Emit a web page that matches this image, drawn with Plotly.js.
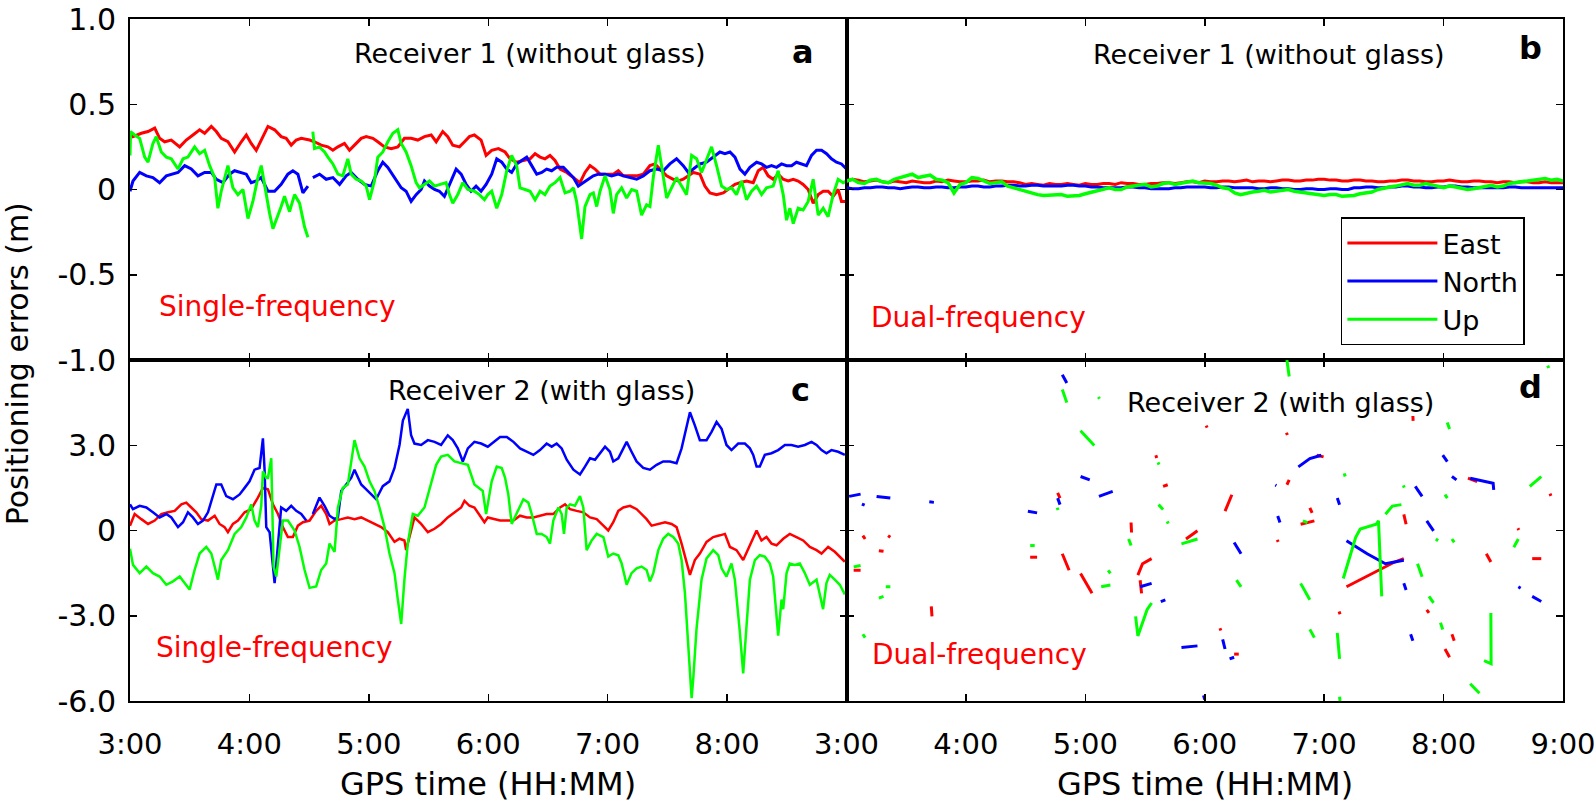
<!DOCTYPE html>
<html>
<head>
<meta charset="utf-8">
<script src="https://cdn.plot.ly/plotly-3.0.1.min.js"></script>
<style>
  body { margin: 0; background: #ffffff; }
  #root { width: 1595px; height: 804px; }
</style>
</head>
<body>
<div id="root"></div>
<script>
// GPS time in decimal hours, positioning errors in metres

// panel a: receiver 1, single-frequency
var aEastT = [3.0,3.025,3.095,3.151,3.207,3.248,3.29,3.346,3.416,3.471,3.527,3.583,3.625,3.681,3.723,3.764,3.82,3.876,3.932,3.974,4.015,4.057,4.099,4.155,4.211,4.266,4.308,4.35,4.392,4.434,4.504,4.545,4.601,4.657,4.699,4.741,4.796,4.838,4.88,4.936,4.978,5.034,5.075,5.131,5.187,5.243,5.298,5.354,5.41,5.466,5.522,5.564,5.619,5.661,5.703,5.759,5.801,5.842,5.884,5.94,5.982,6.029,6.085,6.141,6.183,6.238,6.294,6.35,6.392,6.434,6.475,6.517,6.559,6.601,6.657,6.713,6.768,6.81,6.852,6.894,6.936,6.992,7.047,7.089,7.131,7.187,7.243,7.298,7.354,7.396,7.438,7.494,7.549,7.591,7.633,7.675,7.717,7.773,7.814,7.856,7.912,7.968,8.024,8.066,8.108,8.163,8.219,8.261,8.302,8.344,8.386,8.428,8.47,8.512,8.554,8.595,8.637,8.679,8.721,8.763,8.805,8.846,8.888,8.93,8.958,9.0];
var aEast = [0.34,0.31,0.33,0.34,0.36,0.30,0.28,0.29,0.25,0.29,0.32,0.35,0.33,0.37,0.34,0.30,0.28,0.22,0.28,0.32,0.27,0.23,0.29,0.37,0.35,0.31,0.30,0.26,0.29,0.30,0.29,0.28,0.26,0.25,0.23,0.25,0.27,0.23,0.26,0.30,0.31,0.30,0.28,0.25,0.24,0.25,0.30,0.30,0.29,0.31,0.32,0.28,0.34,0.31,0.26,0.25,0.28,0.31,0.32,0.29,0.20,0.23,0.24,0.22,0.18,0.16,0.17,0.18,0.21,0.19,0.18,0.20,0.17,0.12,0.10,0.07,0.04,0.10,0.14,0.12,0.09,0.09,0.09,0.11,0.08,0.08,0.08,0.09,0.14,0.15,0.12,0.08,0.06,0.05,0.06,0.08,0.10,0.09,0.02,-0.02,-0.03,-0.02,0.01,0.03,0.04,0.05,0.04,0.11,0.13,0.08,0.06,0.09,0.06,0.05,0.06,0.05,0.03,0.00,-0.08,-0.03,-0.01,-0.01,-0.04,0.00,-0.07,-0.07];

var aNorthT = [3.0,3.025,3.081,3.137,3.192,3.248,3.304,3.36,3.402,3.458,3.513,3.569,3.625,3.681,3.723,3.778,3.834,3.876,3.932,3.974,4.015,4.057,4.099,4.155,4.211,4.266,4.322,4.364,4.406,4.448,4.49,null,4.531,4.587,4.643,4.699,4.755,4.81,4.852,4.908,4.964,5.02,5.075,5.117,5.159,5.215,5.271,5.312,5.354,5.396,5.438,5.466,5.508,5.55,5.591,5.633,5.675,5.731,5.773,5.815,5.856,5.898,5.94,5.982,6.029,6.071,6.113,6.155,6.196,6.238,6.28,6.322,6.364,6.406,6.448,6.489,6.531,6.573,6.629,6.671,6.713,6.754,6.796,6.838,6.88,6.922,6.978,7.033,7.089,7.131,7.187,7.243,7.298,7.354,7.41,7.466,7.521,7.577,7.633,7.675,7.717,7.773,7.828,7.884,7.94,7.982,8.024,8.066,8.108,8.149,8.191,8.247,8.289,8.33,8.372,8.414,8.456,8.498,8.54,8.581,8.623,8.665,8.707,8.749,8.791,8.833,8.874,8.916,8.958,9.0];
var aNorth = [-0.01,0.05,0.10,0.08,0.07,0.04,0.08,0.09,0.10,0.14,0.12,0.08,0.10,0.10,0.06,0.04,0.09,0.11,0.10,0.09,0.04,0.05,0.07,-0.01,-0.01,0.03,0.09,0.11,0.09,-0.02,0.02,null,0.07,0.09,0.06,0.07,0.03,0.08,0.10,0.06,0.03,0.02,0.11,0.16,0.13,0.07,0.01,-0.01,-0.07,-0.03,0.00,0.05,0.02,0.00,-0.01,-0.04,0.03,0.12,0.09,0.03,-0.01,0.02,-0.01,0.03,0.09,0.18,0.16,0.12,0.10,0.15,0.17,0.19,0.14,0.09,0.10,0.12,0.11,0.13,0.13,0.10,0.07,0.02,0.04,0.06,0.08,0.09,0.09,0.08,0.09,0.08,0.07,0.06,0.08,0.11,0.12,0.11,0.15,0.18,0.14,0.10,0.12,0.15,0.16,0.19,0.22,0.21,0.22,0.19,0.12,0.09,0.13,0.16,0.15,0.13,0.14,0.13,0.15,0.14,0.14,0.16,0.15,0.14,0.20,0.23,0.23,0.21,0.18,0.16,0.15,0.12];

var aUpT = [3.0,3.005,3.039,3.081,3.123,3.151,3.192,3.22,3.262,3.304,3.346,3.402,3.444,3.485,3.541,3.583,3.625,3.667,3.709,3.736,3.764,3.792,3.82,3.862,3.904,3.946,3.988,4.029,4.071,4.099,4.141,4.169,4.197,4.225,4.266,4.294,4.336,4.378,4.42,4.462,4.49,null,4.531,4.545,4.587,4.629,4.657,4.699,4.741,4.782,4.824,4.852,4.894,4.936,4.978,5.006,5.047,5.075,5.117,5.159,5.201,5.243,5.271,5.312,5.354,5.396,5.424,5.466,5.508,5.55,5.605,5.647,5.675,5.703,5.745,5.787,5.829,5.884,5.926,5.968,5.996,6.029,6.071,6.113,6.155,6.196,6.238,6.266,6.308,6.35,6.392,6.434,6.475,6.517,6.559,6.601,6.643,6.685,6.713,6.74,6.782,6.81,6.852,6.88,6.908,6.936,6.978,7.019,7.047,7.075,7.117,7.159,7.201,7.243,7.284,7.326,7.354,7.382,7.424,7.452,7.494,7.535,7.577,7.619,7.661,7.703,7.745,7.786,7.828,7.87,7.912,7.954,7.996,8.038,8.079,8.121,8.163,8.205,8.247,8.289,8.33,8.386,8.428,8.47,8.498,8.526,8.554,8.595,8.637,8.679,8.721,8.763,8.805,8.846,8.888,8.93,8.972,9.0];
var aUp = [0.20,0.34,0.32,0.30,0.19,0.16,0.27,0.31,0.22,0.19,0.18,0.12,0.18,0.19,0.25,0.21,0.23,0.14,0.07,-0.11,-0.01,0.07,0.14,0.01,-0.03,0.00,-0.17,-0.07,0.07,0.14,-0.03,-0.14,-0.23,-0.18,-0.10,-0.04,-0.13,-0.03,-0.08,-0.22,-0.28,null,0.34,0.24,0.25,0.22,0.19,0.15,0.09,0.08,0.18,0.09,0.06,0.05,0.02,-0.06,0.05,0.19,0.22,0.28,0.33,0.35,0.27,0.22,0.14,0.04,0.01,0.03,0.05,0.02,0.03,0.04,-0.03,-0.08,-0.03,0.04,0.00,-0.01,-0.03,-0.06,-0.03,-0.01,-0.11,-0.03,0.11,0.20,0.14,0.01,0.00,-0.01,-0.06,-0.01,-0.03,0.02,0.04,0.07,-0.02,-0.01,0.01,-0.07,-0.29,-0.10,-0.03,-0.02,-0.10,-0.01,0.08,0.00,-0.14,-0.03,0.01,-0.05,0.00,-0.01,-0.15,-0.09,-0.10,0.07,0.26,0.14,-0.05,0.01,0.07,0.02,-0.03,0.20,0.18,0.10,0.17,0.25,0.14,0.02,0.00,0.01,-0.03,0.05,-0.06,-0.01,0.02,-0.03,0.01,0.02,0.11,-0.03,-0.18,-0.11,-0.20,-0.11,-0.12,-0.07,0.06,-0.15,-0.11,-0.16,-0.03,0.06,0.04,0.05];

// panel b: receiver 1, dual-frequency
var bTime = [3.0,3.05,3.1,3.15,3.2,3.25,3.3,3.35,3.4,3.45,3.5,3.55,3.6,3.65,3.7,3.75,3.8,3.85,3.9,3.95,4.0,4.05,4.1,4.15,4.2,4.25,4.3,4.35,4.4,4.45,4.5,4.55,4.6,4.65,4.7,4.75,4.8,4.85,4.9,4.95,5.0,5.05,5.1,5.15,5.2,5.25,5.3,5.35,5.4,5.45,5.5,5.55,5.6,5.65,5.7,5.75,5.8,5.85,5.9,5.95,6.0,6.05,6.1,6.15,6.2,6.25,6.3,6.35,6.4,6.45,6.5,6.55,6.6,6.65,6.7,6.75,6.8,6.85,6.9,6.95,7.0,7.05,7.1,7.15,7.2,7.25,7.3,7.35,7.4,7.45,7.5,7.55,7.6,7.65,7.7,7.75,7.8,7.85,7.9,7.95,8.0,8.05,8.1,8.15,8.2,8.25,8.3,8.35,8.4,8.45,8.5,8.55,8.6,8.65,8.7,8.75,8.8,8.85,8.9,8.95,9.0];
var bEast = [0.05,0.06,0.055,0.045,0.05,0.055,0.045,0.04,0.05,0.045,0.04,0.05,0.045,0.04,0.04,0.05,0.045,0.055,0.05,0.045,0.045,0.05,0.05,0.055,0.045,0.05,0.05,0.045,0.045,0.04,0.03,0.035,0.03,0.025,0.035,0.03,0.03,0.035,0.03,0.025,0.035,0.03,0.03,0.035,0.035,0.03,0.04,0.035,0.035,0.03,0.03,0.035,0.035,0.04,0.04,0.035,0.04,0.045,0.045,0.04,0.05,0.045,0.045,0.05,0.05,0.045,0.05,0.055,0.045,0.05,0.05,0.045,0.05,0.055,0.055,0.05,0.05,0.055,0.055,0.06,0.06,0.055,0.055,0.05,0.05,0.055,0.055,0.05,0.05,0.045,0.045,0.05,0.05,0.055,0.055,0.05,0.05,0.045,0.045,0.05,0.05,0.055,0.05,0.045,0.045,0.05,0.05,0.045,0.045,0.04,0.045,0.045,0.04,0.045,0.045,0.04,0.04,0.045,0.04,0.04,0.04];
var bNorth = [0.01,0.005,0.005,0.01,0.01,0.015,0.015,0.01,0.01,0.005,0.01,0.015,0.015,0.01,0.01,0.015,0.015,0.01,0.01,0.015,0.015,0.02,0.02,0.015,0.015,0.02,0.02,0.025,0.025,0.02,0.02,0.025,0.025,0.02,0.02,0.02,0.02,0.025,0.025,0.02,0.02,0.015,0.015,0.01,0.01,0.01,0.01,0.015,0.015,0.01,0.01,0.005,0.005,0.005,0.005,0.01,0.01,0.015,0.015,0.015,0.015,0.01,0.01,0.015,0.015,0.01,0.01,0.01,0.01,0.005,0.005,0.01,0.01,0.005,0.005,0.0,0.0,0.005,0.005,0.0,0.0,0.005,0.005,0.0,0.0,0.01,0.01,0.015,0.015,0.01,0.01,0.015,0.015,0.02,0.02,0.015,0.015,0.01,0.01,0.015,0.015,0.02,0.02,0.015,0.015,0.01,0.01,0.01,0.01,0.01,0.01,0.015,0.015,0.01,0.01,0.01,0.01,0.01,0.01,0.01,0.01];
var bUp = [0.05,0.06,0.04,0.035,0.055,0.06,0.045,0.04,0.06,0.07,0.075,0.09,0.07,0.08,0.085,0.06,0.055,0.04,-0.02,0.03,0.04,0.07,0.065,0.05,0.035,0.04,0.045,0.02,0.01,0.0,-0.01,-0.025,-0.03,-0.035,-0.035,-0.03,-0.03,-0.04,-0.04,-0.035,-0.025,-0.015,-0.005,0.005,0.01,0.0,0.0,0.015,0.02,0.025,0.03,0.015,0.02,0.035,0.04,0.03,0.035,0.045,0.05,0.04,0.04,0.035,0.025,0.01,0.005,-0.02,-0.03,-0.02,-0.015,-0.01,-0.005,-0.015,-0.01,-0.005,0.0,-0.01,-0.015,-0.02,-0.025,-0.03,-0.035,-0.03,-0.03,-0.04,-0.04,-0.035,-0.025,-0.02,-0.015,0.0,0.01,0.015,0.02,0.03,0.035,0.025,0.025,0.035,0.03,0.02,0.01,0.02,0.015,0.005,0.0,0.005,0.01,0.02,0.025,0.015,0.02,0.035,0.04,0.045,0.05,0.055,0.06,0.065,0.055,0.06,0.05];

// panel c: receiver 2, single-frequency
var cEastT = [3.0,3.039,3.095,3.151,3.207,3.262,3.318,3.374,3.43,3.471,3.513,3.555,3.597,3.653,3.709,3.75,3.792,3.82,3.862,3.904,3.96,4.015,4.071,4.113,4.155,4.197,4.239,4.28,4.322,4.364,4.406,4.448,4.504,4.559,4.601,4.643,4.671,4.713,4.769,4.824,4.88,4.936,4.992,5.047,5.103,5.159,5.215,5.257,5.298,5.312,5.34,5.382,5.438,5.494,5.55,5.605,5.661,5.717,5.773,5.801,5.842,5.884,5.94,5.968,5.996,6.043,6.099,6.155,6.211,6.266,6.322,6.378,6.433,6.489,6.545,6.601,6.643,6.685,6.74,6.796,6.852,6.908,6.964,7.005,7.047,7.089,7.131,7.187,7.243,7.284,7.326,7.368,7.424,7.48,7.535,7.577,7.619,7.661,7.689,7.73,7.772,7.828,7.884,7.94,7.982,8.024,8.079,8.135,8.177,8.219,8.247,8.288,8.33,8.372,8.414,8.47,8.525,8.581,8.637,8.693,8.749,8.791,8.846,8.902,8.944,8.986];
var cEast = [0.17,0.58,0.40,0.23,0.35,0.58,0.64,0.69,0.92,0.98,0.81,0.64,0.40,0.35,0.52,0.23,0.12,-0.06,0.23,0.35,0.64,0.75,1.16,1.50,1.45,0.92,0.58,0.12,-0.23,-0.23,0.17,0.29,0.35,0.69,0.87,0.58,0.23,0.35,0.40,0.46,0.40,0.46,0.35,0.23,0.12,-0.06,-0.40,-0.29,-0.35,-0.69,-0.23,0.46,0.23,-0.06,0.06,0.23,0.46,0.64,0.81,1.04,0.87,0.81,0.46,0.29,0.46,0.40,0.35,0.35,0.35,0.52,0.46,0.46,0.52,0.58,0.58,0.81,0.92,0.75,0.69,0.64,0.46,0.40,0.17,0.00,0.29,0.69,0.81,0.87,0.75,0.58,0.40,0.17,0.23,0.29,0.23,0.12,-0.46,-1.16,-1.56,-1.04,-0.81,-0.40,-0.23,-0.17,-0.12,-0.58,-0.69,-1.04,-0.64,-0.23,0.00,-0.35,-0.23,-0.46,-0.52,-0.29,-0.12,-0.23,-0.35,-0.58,-0.69,-0.81,-0.58,-0.75,-0.92,-1.10];

var cNorthT = [3.0,3.025,3.081,3.137,3.192,3.248,3.304,3.346,3.402,3.444,3.485,3.527,3.569,3.611,3.653,3.695,3.723,3.764,3.806,3.862,3.918,3.96,4.001,4.043,4.085,4.113,4.127,4.141,4.169,4.211,4.239,4.266,4.308,4.35,4.392,4.434,4.476,null,4.531,4.587,4.629,4.671,4.713,4.741,4.769,4.81,4.852,4.88,4.908,4.936,4.978,5.02,5.061,5.089,5.117,5.173,5.215,5.257,5.285,5.326,5.354,5.382,5.438,5.494,5.55,5.605,5.661,5.703,5.745,5.787,5.829,5.884,5.94,5.996,6.043,6.099,6.155,6.211,6.266,6.322,6.378,6.433,6.489,6.531,6.573,6.615,6.657,6.713,6.768,6.81,6.852,6.894,6.936,6.978,7.019,7.047,7.089,7.131,7.159,7.2,7.242,7.298,7.354,7.41,7.465,7.521,7.577,7.619,7.661,7.689,7.73,7.772,7.828,7.87,7.912,7.954,7.995,8.037,8.093,8.149,8.191,8.219,8.247,8.274,8.316,8.372,8.428,8.484,8.539,8.595,8.651,8.707,8.749,8.791,8.832,8.874,8.93,8.986];
var cNorth = [0.92,0.75,0.87,0.81,0.64,0.46,0.58,0.46,0.12,0.29,0.64,0.46,0.23,0.35,0.64,1.21,1.62,1.62,1.21,1.10,1.27,1.50,1.73,2.14,2.20,3.24,2.14,0.12,-0.06,-1.85,-0.46,0.81,0.69,0.87,0.69,0.58,0.35,null,0.58,1.16,0.87,0.52,0.40,0.46,1.39,1.62,1.85,2.14,1.85,1.62,1.45,1.27,1.10,1.33,1.56,1.73,2.20,3.01,3.87,4.28,3.35,3.06,3.01,3.18,3.12,3.01,3.35,3.18,2.89,2.43,2.89,3.12,3.06,2.95,3.12,3.29,3.29,3.12,2.89,2.77,2.66,2.83,3.06,2.95,3.06,2.89,2.49,2.14,1.97,2.25,2.54,2.49,2.72,2.95,2.77,2.43,2.54,2.89,3.12,2.77,2.43,2.20,2.14,2.31,2.43,2.43,2.37,2.89,3.70,4.16,3.70,3.18,3.18,3.47,3.82,3.58,3.01,2.83,3.06,3.06,2.89,2.66,2.25,2.25,2.66,2.72,2.83,3.01,3.01,2.95,3.01,3.12,3.01,2.83,2.72,2.83,2.77,2.66];

var cUpT = [3.0,3.025,3.081,3.137,3.192,3.248,3.304,3.36,3.416,3.458,3.499,3.541,3.583,3.639,3.681,3.723,3.736,3.764,3.82,3.876,3.932,3.974,4.015,4.043,4.071,4.099,4.113,4.141,4.155,4.183,4.202,4.225,4.253,4.28,4.322,4.378,4.42,4.462,4.504,4.559,4.601,4.643,4.671,4.713,4.741,4.782,4.824,4.88,4.922,4.964,5.006,5.047,5.089,5.131,5.173,5.215,5.243,5.271,5.298,5.326,5.368,5.41,5.466,5.522,5.564,5.605,5.661,5.717,5.773,5.829,5.884,5.926,5.954,5.982,6.029,6.071,6.113,6.141,6.168,6.196,6.238,6.266,6.294,6.336,6.364,6.406,6.447,6.489,6.517,6.545,6.587,6.615,6.634,6.657,6.685,6.726,6.768,6.796,6.824,6.866,6.908,6.964,7.005,7.047,7.089,7.117,7.159,7.2,7.242,7.284,7.326,7.354,7.382,7.424,7.465,7.507,7.549,7.591,7.619,7.647,7.675,7.703,7.717,7.744,7.786,7.828,7.884,7.926,7.954,7.995,8.037,8.065,8.107,8.135,8.163,8.191,8.233,8.274,8.316,8.358,8.386,8.414,8.428,8.456,8.47,8.498,8.525,8.567,8.609,8.651,8.693,8.749,8.776,8.804,8.832,8.86,8.902,8.944,8.986];
var cUp = [-0.64,-1.21,-1.50,-1.27,-1.50,-1.62,-1.91,-1.79,-1.62,-1.85,-2.08,-1.39,-0.81,-0.58,-0.81,-1.50,-1.73,-1.04,-0.69,-0.12,0.12,0.46,0.92,0.35,0.12,0.87,2.08,1.85,1.85,2.54,-1.27,-1.62,-0.69,0.35,0.35,0.00,-0.58,-1.39,-2.02,-1.97,-1.39,-1.16,-0.46,-0.75,0.81,1.50,1.62,3.18,2.54,2.25,1.73,1.39,0.81,0.12,-0.81,-1.50,-2.43,-3.29,-1.73,-0.46,0.58,0.52,0.81,1.62,2.31,2.60,2.66,2.43,2.37,2.31,1.62,1.50,1.39,0.58,1.73,2.25,2.20,1.85,1.27,0.23,0.58,0.87,1.10,0.98,0.58,-0.12,-0.12,-0.23,-0.46,0.35,0.81,0.58,-0.12,0.81,0.92,0.87,1.21,0.81,-0.69,-0.35,-0.12,-0.23,-0.92,-0.81,-0.87,-1.16,-1.91,-1.50,-1.33,-1.27,-1.39,-1.79,-1.50,-0.69,-0.29,-0.12,-0.23,-0.46,-1.04,-2.20,-4.05,-5.90,-5.20,-3.47,-1.73,-0.98,-0.69,-0.87,-1.33,-1.62,-1.16,-1.73,-3.58,-5.03,-3.35,-1.73,-1.04,-0.87,-0.92,-1.16,-1.62,-2.89,-3.70,-2.43,-2.77,-1.50,-1.16,-1.21,-1.16,-1.50,-1.91,-1.73,-2.20,-2.77,-1.85,-1.56,-1.73,-1.91,-2.25];

// panel d: receiver 2, dual-frequency (short fragments, null = no fix)
var dEastT = [3.06,3.118,null,3.137,3.156,null,3.271,3.31,null,3.348,3.367,null,3.71,3.716,null,4.538,4.596,null,4.768,4.788,null,4.807,4.864,null,4.96,5.056,null,5.383,5.387,null,5.44,5.479,5.555,null,5.459,5.471,null,5.59,5.598,null,5.651,5.69,null,5.843,5.939,null,6.012,6.02,null,6.127,6.135,null,6.17,6.227,null,6.246,6.285,null,6.607,6.615,null,6.684,6.692,null,6.688,6.707,null,6.803,6.918,null,6.88,6.899,null,6.937,6.995,null,7.125,7.133,null,7.187,7.321,7.475,7.59,7.667,null,7.667,7.686,null,7.743,7.745,null,7.859,7.878,null,8.012,8.05,null,8.07,8.089,null,8.204,8.281,null,8.358,8.396,null,8.622,8.63,null,8.742,8.818,null,8.891,8.899];
var dEast = [-1.40,-1.40,null,-0.18,-0.30,null,-0.71,-0.73,null,-0.18,-0.24,null,-2.67,-3.02,null,-0.94,-0.94,null,1.32,1.14,null,-0.82,-1.40,null,-1.51,-2.21,null,0.28,-0.07,null,-1.57,-1.17,-0.99,null,-1.75,-2.21,null,2.65,2.55,null,1.55,1.61,null,-0.30,-0.01,null,3.69,3.62,null,-3.44,-3.52,null,0.68,1.26,null,-4.35,-4.35,null,-0.33,-0.40,null,3.44,3.36,null,1.61,1.78,null,0.22,0.34,null,0.80,0.62,null,2.65,2.59,null,-2.85,-2.95,null,-1.98,-1.69,-1.34,-1.11,-0.99,null,0.57,0.22,null,4.03,3.86,null,-2.79,-2.90,null,-4.17,-4.46,null,-3.65,-3.88,null,1.84,1.72,null,-0.82,-1.11,null,0.08,0.02,null,-0.99,-0.99,null,1.30,1.22];

var dNorthT = [3.022,3.118,null,3.129,3.152,null,3.252,3.367,null,3.693,3.732,null,4.519,4.596,null,4.768,4.788,null,4.807,4.845,null,4.96,5.037,null,5.114,5.229,null,5.459,5.555,null,5.632,5.67,null,5.805,5.939,null,5.99,6.0,null,6.15,6.17,null,6.208,6.246,null,6.246,6.304,null,6.591,6.6,null,6.611,6.63,null,6.784,6.88,6.976,null,7.11,7.129,null,7.187,7.36,7.513,7.667,null,7.667,7.686,null,7.724,7.743,null,7.763,7.82,null,7.859,7.916,null,7.993,8.031,null,8.07,8.108,null,8.223,8.415,8.42,null,8.626,8.645,null,8.742,8.818];
var dNorth = [1.20,1.28,null,0.93,0.89,null,1.20,1.14,null,1.01,0.99,null,0.68,0.62,null,1.14,0.91,null,5.48,5.19,null,1.90,1.78,null,1.20,1.38,null,-1.98,-1.86,null,-2.50,-2.44,null,-4.12,-4.06,null,-5.80,-5.95,null,-3.83,-4.17,null,-4.52,-4.46,null,-0.42,-0.82,null,1.60,1.58,null,0.51,0.28,null,2.24,2.53,2.65,null,1.14,0.91,null,-0.36,-0.82,-1.17,-1.05,null,-1.86,-2.09,null,-3.65,-3.88,null,1.55,1.20,null,0.34,-0.01,null,2.65,2.42,null,1.90,1.78,null,1.84,1.66,1.43,null,-1.98,-2.03,null,-2.32,-2.50];

var dUpT = [3.06,3.118,null,3.137,3.156,null,3.271,3.31,null,3.329,3.367,null,4.538,4.576,null,4.764,4.772,null,4.807,4.845,null,4.96,5.075,null,5.11,5.118,null,5.133,5.21,null,5.191,5.21,null,5.363,5.383,null,5.421,5.44,5.517,5.555,null,5.609,5.617,null,5.613,5.651,null,5.686,5.694,null,5.805,5.939,null,6.012,6.02,null,6.266,6.304,null,6.688,6.707,null,6.803,6.88,null,6.822,6.86,null,6.88,6.918,null,7.11,7.129,null,7.129,7.133,null,7.168,7.176,null,7.16,7.206,7.264,7.302,7.436,7.455,7.467,7.482,null,7.513,7.571,7.647,null,7.663,7.671,null,7.782,7.82,null,7.878,7.916,null,7.935,7.954,null,7.974,7.993,null,8.012,8.031,null,8.031,8.05,null,8.07,8.089,null,8.223,8.3,null,8.396,8.398,8.339,null,8.588,8.626,null,8.722,8.818,null,8.872,8.88];
var dUp = [-1.28,-1.23,null,-3.65,-3.77,null,-2.38,-2.32,null,-1.98,-1.98,null,-0.53,-0.53,null,0.80,0.72,null,4.96,4.50,null,3.51,2.99,null,4.70,4.64,null,-1.98,-1.92,null,-1.40,-1.51,null,-0.30,-0.53,null,-3.02,-3.71,-2.79,-2.55,null,2.40,2.32,null,0.91,0.74,null,0.32,0.24,null,-0.47,-0.30,null,4.31,4.23,null,-1.75,-1.98,null,6.0,5.42,null,-1.86,-2.44,null,0.34,0.28,null,-3.48,-3.77,null,-3.60,-4.52,null,-5.85,-6.0,null,2.01,1.90,null,-1.69,-1.05,-0.24,0.05,0.22,0.34,-0.94,-2.32,null,0.57,0.86,0.91,null,1.59,1.51,null,-1.17,-1.63,null,-2.32,-2.55,null,-0.30,-0.36,null,-3.25,-3.48,null,1.26,1.14,null,3.80,3.57,null,-0.30,-0.42,null,-5.39,-5.73,null,-2.90,-4.69,-4.58,null,-0.59,-0.30,null,1.55,1.90,null,5.80,5.72];

// axis ticks
var hourTicks = [3, 4, 5, 6, 7, 8, 9];
var hourLabels = ['3:00', '4:00', '5:00', '6:00', '7:00', '8:00', '9:00'];
var topTicks = [-1, -0.5, 0, 0.5, 1];
var topLabels = ['-1.0', '-0.5', '0', '0.5', '1.0'];
var lowTicks = [-6, -3, 0, 3, 6];
var lowLabels = ['-6.0', '-3.0', '0', '3.0', ''];

var RED = 'rgb(255,0,0)';
var BLUE = 'rgb(0,0,255)';
var GREEN = 'rgb(0,255,0)';
var FONT = 'DejaVu Sans, Liberation Sans, Arial, sans-serif';

window.onload = buildChart;

function line(x, y, color, width, xa, ya, name, legend) {
    return {
        x: x,
        y: y,
        type: 'scatter',
        mode: 'lines',
        name: name,
        showlegend: legend,
        xaxis: xa,
        yaxis: ya,
        line: {color: color, width: width},
        hoverinfo: 'skip'
    };
}

function xAxis(domain, anchor, labels) {
    return {
        domain: domain,
        anchor: anchor,
        range: [3, 9],
        tickmode: 'array',
        tickvals: hourTicks,
        ticktext: labels,
        showticklabels: labels !== null,
        ticks: 'inside',
        ticklen: 7,
        tickwidth: 1.5,
        tickcolor: '#000',
        ticklabelstandoff: 16,
        ticklabeloverflow: 'allow',
        showline: true,
        mirror: 'ticks',
        linecolor: '#000',
        linewidth: 2,
        showgrid: false,
        zeroline: false,
        tickfont: {size: 29, color: '#000'}
    };
}

function yAxis(domain, anchor, range, ticks, labels) {
    return {
        domain: domain,
        anchor: anchor,
        range: range,
        tickmode: 'array',
        tickvals: ticks,
        ticktext: labels || [],
        showticklabels: !!labels,
        ticks: 'inside',
        ticklen: 7,
        tickwidth: 1.5,
        tickcolor: '#000',
        ticklabelstandoff: 6,
        ticklabeloverflow: 'allow',
        showline: true,
        mirror: 'ticks',
        linecolor: '#000',
        linewidth: 2,
        showgrid: false,
        zeroline: false,
        tickfont: {size: 30, color: '#000'}
    };
}

function note(text, x, y, size, color, xanchor, bold) {
    return {
        text: bold ? '<b>' + text + '</b>' : text,
        xref: 'paper', yref: 'paper',
        x: x, y: y,
        xanchor: xanchor, yanchor: 'middle',
        showarrow: false,
        font: {size: size, color: color, family: FONT}
    };
}

function buildChart() {

    var data = [
        line(aEastT, aEast, RED, 3, 'x', 'y', 'East', true),
        line(aNorthT, aNorth, BLUE, 3, 'x', 'y', 'North', true),
        line(aUpT, aUp, GREEN, 3, 'x', 'y', 'Up', true),

        line(bTime, bEast, RED, 3, 'x2', 'y2', 'East', false),
        line(bTime, bNorth, BLUE, 3, 'x2', 'y2', 'North', false),
        line(bTime, bUp, GREEN, 3.5, 'x2', 'y2', 'Up', false),

        line(cEastT, cEast, RED, 2.5, 'x3', 'y3', 'East', false),
        line(cNorthT, cNorth, BLUE, 2.5, 'x3', 'y3', 'North', false),
        line(cUpT, cUp, GREEN, 2.5, 'x3', 'y3', 'Up', false),

        line(dEastT, dEast, RED, 3, 'x4', 'y4', 'East', false),
        line(dNorthT, dNorth, BLUE, 3, 'x4', 'y4', 'North', false),
        line(dUpT, dUp, GREEN, 3, 'x4', 'y4', 'Up', false)
    ];

    var c_labels = hourLabels.slice(0, 6).concat(['']);

    var layout = {
        width: 1595,
        height: 804,
        margin: {l: 130, r: 32, t: 19, b: 103},
        paper_bgcolor: '#ffffff',
        plot_bgcolor: '#ffffff',
        font: {family: FONT, color: '#000'},
        xaxis: xAxis([0, 0.5], 'y', null),
        xaxis2: xAxis([0.5, 1], 'y2', null),
        xaxis3: xAxis([0, 0.5], 'y3', c_labels),
        xaxis4: xAxis([0.5, 1], 'y4', hourLabels),
        yaxis: yAxis([0.5, 1], 'x', [-1, 1], topTicks, topLabels),
        yaxis2: yAxis([0.5, 1], 'x2', [-1, 1], topTicks, null),
        yaxis3: yAxis([0, 0.5], 'x3', [-6, 6], lowTicks, lowLabels),
        yaxis4: yAxis([0, 0.5], 'x4', [-6, 6], lowTicks, null),
        showlegend: true,
        legend: {
            x: 0.845, y: 0.709,
            xanchor: 'left', yanchor: 'top',
            bgcolor: '#ffffff',
            bordercolor: '#000',
            borderwidth: 1.5,
            itemwidth: 90,
            font: {size: 27, color: '#000'}
        },
        annotations: [
            note('Receiver 1 (without glass)', 0.279, 0.949, 27, '#000', 'center'),
            note('a', 0.4696, 0.952, 32, '#000', 'center', true),
            note('Receiver 1 (without glass)', 0.795, 0.948, 27, '#000', 'center'),
            note('b', 0.977, 0.958, 32, '#000', 'center', true),
            note('Single-frequency', 0.0188, 0.579, 28, RED, 'left'),
            note('Dual-frequency', 0.5157, 0.563, 28, RED, 'left'),
            note('Receiver 2 (with glass)', 0.2875, 0.4556, 27, '#000', 'center'),
            note('c', 0.4682, 0.4556, 32, '#000', 'center', true),
            note('Single-frequency', 0.0167, 0.0786, 28, RED, 'left'),
            note('Receiver 2 (with glass)', 0.8032, 0.438, 27, '#000', 'center'),
            note('d', 0.977, 0.461, 32, '#000', 'center', true),
            note('Dual-frequency', 0.5164, 0.0684, 28, RED, 'left'),
            note('GPS time (HH:MM)', 0.25, -0.1223, 32, '#000', 'center'),
            note('GPS time (HH:MM)', 0.75, -0.1223, 32, '#000', 'center'),
            {
                text: 'Positioning errors (m)',
                xref: 'paper', yref: 'paper',
                x: -0.0789, y: 0.495,
                xanchor: 'center', yanchor: 'middle',
                textangle: -90,
                showarrow: false,
                font: {size: 30, color: '#000', family: FONT}
            }
        ]
    };

    Plotly.newPlot('root', data, layout, {staticPlot: true});
}
</script>
</body>
</html>
